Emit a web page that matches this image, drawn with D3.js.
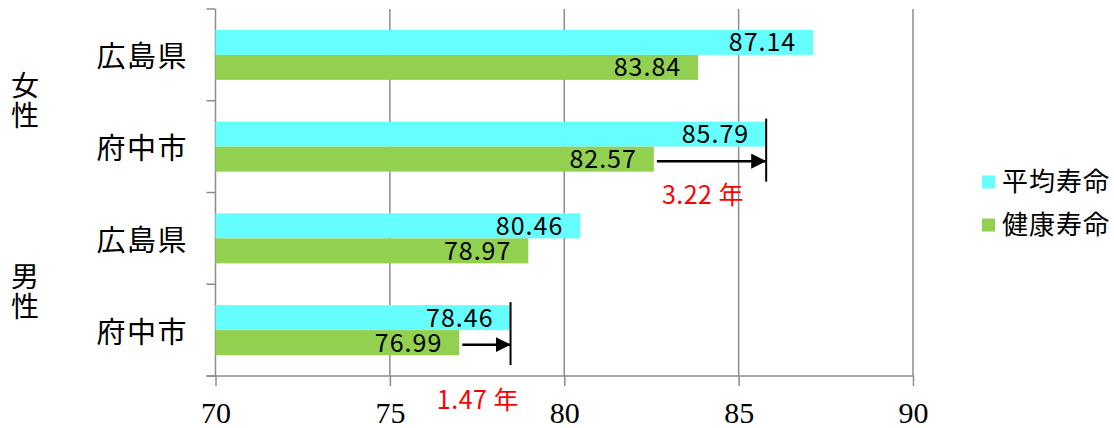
<!DOCTYPE html>
<html>
<head>
<meta charset="utf-8">
<script src="https://cdn.jsdelivr.net/npm/d3@7"></script>
<style>
  body { margin: 0; background: #fff; }
  svg { display: block; }
</style>
</head>
<body>
<svg width="1114" height="428"></svg>
<script>
// data
var genders = ["女性", "女性", "男性", "男性"];
var regions = ["広島県", "府中市", "広島県", "府中市"];
var seriesNames = ["平均寿命", "健康寿命"];
var avgLife = [87.14, 85.79, 80.46, 78.46];
var healthyLife = [83.84, 82.57, 78.97, 76.99];
var xTicks = [70, 75, 80, 85, 90];
var gapRows = [1, 3];   // rows with an arrow between the two bars

var svg = d3.select("svg"),
    plotLeft = 215.5, plotRight = 913, plotTop = 9, plotBottom = 376;

var jp = "'Noto Sans CJK JP', sans-serif";

var rows = regions.map(function (r, i) { return i; });

var x = d3.scaleLinear()
    .domain([70, 90])
    .range([plotLeft, plotRight]);

var y0 = d3.scaleBand()
    .domain(rows)
    .range([plotTop, plotBottom]);

var y1 = d3.scaleBand()
    .domain(seriesNames)
    .range([0, y0.bandwidth()])
    .paddingOuter(0.835);

var color = d3.scaleOrdinal()
    .domain(seriesNames)
    .range(["#66ffff", "#92d050"]);

var gridColor = "#8c8c8c";

// vertical grid lines
svg.append("g")
  .selectAll("line")
  .data(xTicks.slice(1))
  .enter().append("line")
    .attr("x1", function (d) { return x(d); })
    .attr("x2", function (d) { return x(d); })
    .attr("y1", plotTop)
    .attr("y2", plotBottom)
    .attr("stroke", gridColor)
    .attr("stroke-width", 1.5);

// bottom axis
var xAxis = svg.append("g")
    .attr("transform", "translate(0," + plotBottom + ")")
    .call(d3.axisBottom(x).tickValues(xTicks).tickSize(10).tickPadding(16));
xAxis.select(".domain").remove();
xAxis.selectAll("line").attr("stroke", gridColor).attr("stroke-width", 1.5);
xAxis.selectAll("text")
    .attr("font-family", "'Liberation Serif', serif")
    .attr("font-size", 30)
    .attr("fill", "#000");

svg.append("line")
    .attr("x1", plotLeft - 9).attr("x2", plotRight)
    .attr("y1", plotBottom).attr("y2", plotBottom)
    .attr("stroke", gridColor).attr("stroke-width", 1.5);

// left axis with ticks at band edges
svg.append("line")
    .attr("x1", plotLeft).attr("x2", plotLeft)
    .attr("y1", plotTop).attr("y2", plotBottom)
    .attr("stroke", gridColor).attr("stroke-width", 1.5);

var edges = rows.map(function (i) { return y0(i); }).concat([plotBottom]);
svg.append("g")
  .selectAll("line")
  .data(edges)
  .enter().append("line")
    .attr("x1", plotLeft - 9).attr("x2", plotLeft)
    .attr("y1", function (d) { return d; })
    .attr("y2", function (d) { return d; })
    .attr("stroke", gridColor).attr("stroke-width", 1.5);

// bars
var rowG = svg.append("g")
  .selectAll("g")
  .data(rows)
  .enter().append("g")
    .attr("transform", function (i) { return "translate(0," + y0(i) + ")"; });

var cells = rowG.selectAll("g")
  .data(function (i) {
      return [
        { key: seriesNames[0], value: avgLife[i] },
        { key: seriesNames[1], value: healthyLife[i] }
      ];
  })
  .enter().append("g");

cells.append("rect")
    .attr("x", x(70))
    .attr("y", function (d) { return y1(d.key); })
    .attr("width", function (d) { return x(d.value) - x(70); })
    .attr("height", y1.bandwidth())
    .attr("fill", function (d) { return color(d.key); });

cells.append("text")
    .attr("x", function (d) { return x(d.value) - 17; })
    .attr("y", function (d) { return y1(d.key) + y1.bandwidth() / 2; })
    .attr("dy", "0.36em")
    .attr("text-anchor", "end")
    .attr("font-family", jp)
    .attr("font-size", 25)
    .attr("letter-spacing", 1)
    .attr("fill", "#000")
    .text(function (d) { return d.value.toFixed(2); });

// region labels
svg.append("g")
  .selectAll("text")
  .data(rows)
  .enter().append("text")
    .attr("x", 188)
    .attr("y", function (i) { return y0(i) + y0.bandwidth() / 2 + 2; })
    .attr("dy", "0.36em")
    .attr("text-anchor", "end")
    .attr("font-family", jp)
    .attr("font-size", 29)
    .attr("letter-spacing", 1.5)
    .attr("fill", "#000")
    .text(function (i) { return regions[i]; });

// gender labels, one character per line, centred on each pair of rows
var genderChars = [];
[0, 2].forEach(function (i) {
    var mid = y0(i) + y0.bandwidth() + (i === 0 ? 0 : 8);
    genders[i].split("").forEach(function (c, k) {
        genderChars.push({ ch: c, y: mid + (k - 0.5) * 30 });
    });
});

svg.append("g")
  .selectAll("text")
  .data(genderChars)
  .enter().append("text")
    .attr("x", 25)
    .attr("y", function (d) { return d.y; })
    .attr("dy", "0.36em")
    .attr("text-anchor", "middle")
    .attr("font-family", jp)
    .attr("font-size", 28)
    .attr("fill", "#000")
    .text(function (d) { return d.ch; });

// arrows showing the gap between average and healthy life
var defs = svg.append("defs");
defs.append("marker")
    .attr("id", "arrow")
    .attr("viewBox", "0 0 10 10")
    .attr("refX", 10).attr("refY", 5)
    .attr("markerWidth", 15).attr("markerHeight", 15)
    .attr("markerUnits", "userSpaceOnUse")
    .attr("orient", "auto")
  .append("path")
    .attr("d", "M0,0L10,5L0,10Z")
    .attr("fill", "#000");

var gapG = svg.append("g")
  .selectAll("g")
  .data(gapRows)
  .enter().append("g");

gapG.append("line")
    .attr("x1", function (i) { return x(avgLife[i]); })
    .attr("x2", function (i) { return x(avgLife[i]); })
    .attr("y1", function (i) { return y0(i) + y1(seriesNames[0]) - 3; })
    .attr("y2", function (i) { return y0(i) + y1(seriesNames[1]) + y1.bandwidth() + 10; })
    .attr("stroke", "#000").attr("stroke-width", 2);

gapG.append("line")
    .attr("x1", function (i) { return x(healthyLife[i]) + 3; })
    .attr("x2", function (i) { return x(avgLife[i]); })
    .attr("y1", function (i) { return y0(i) + y1(seriesNames[1]) + y1.bandwidth() / 2 + 2; })
    .attr("y2", function (i) { return y0(i) + y1(seriesNames[1]) + y1.bandwidth() / 2 + 2; })
    .attr("stroke", "#000").attr("stroke-width", 2.5)
    .attr("marker-end", "url(#arrow)");

gapG.append("text")
    .attr("x", function (i) { return (x(healthyLife[i]) + x(avgLife[i])) / 2 - 7; })
    .attr("y", function (i) {
        return y0(i) + y1(seriesNames[1]) + y1.bandwidth() + (i === 3 ? 45 : 23);
    })
    .attr("dy", "0.36em")
    .attr("text-anchor", "middle")
    .attr("font-family", jp)
    .attr("font-size", 25)
    .attr("letter-spacing", 0.5)
    .attr("fill", "#ff0000")
    .text(function (i) { return (avgLife[i] - healthyLife[i]).toFixed(2) + " 年"; });

// legend
var legend = svg.append("g")
  .selectAll("g")
  .data(seriesNames)
  .enter().append("g")
    .attr("transform", function (d, i) { return "translate(982," + (182 + i * 43) + ")"; });

legend.append("rect")
    .attr("x", 0).attr("y", -6.5)
    .attr("width", 13).attr("height", 13)
    .attr("fill", function (d) { return color(d); });

legend.append("text")
    .attr("x", 20)
    .attr("dy", "0.36em")
    .attr("font-family", jp)
    .attr("font-size", 26)
    .attr("letter-spacing", 1)
    .attr("fill", "#000")
    .text(function (d) { return d; });
</script>
</body>
</html>
